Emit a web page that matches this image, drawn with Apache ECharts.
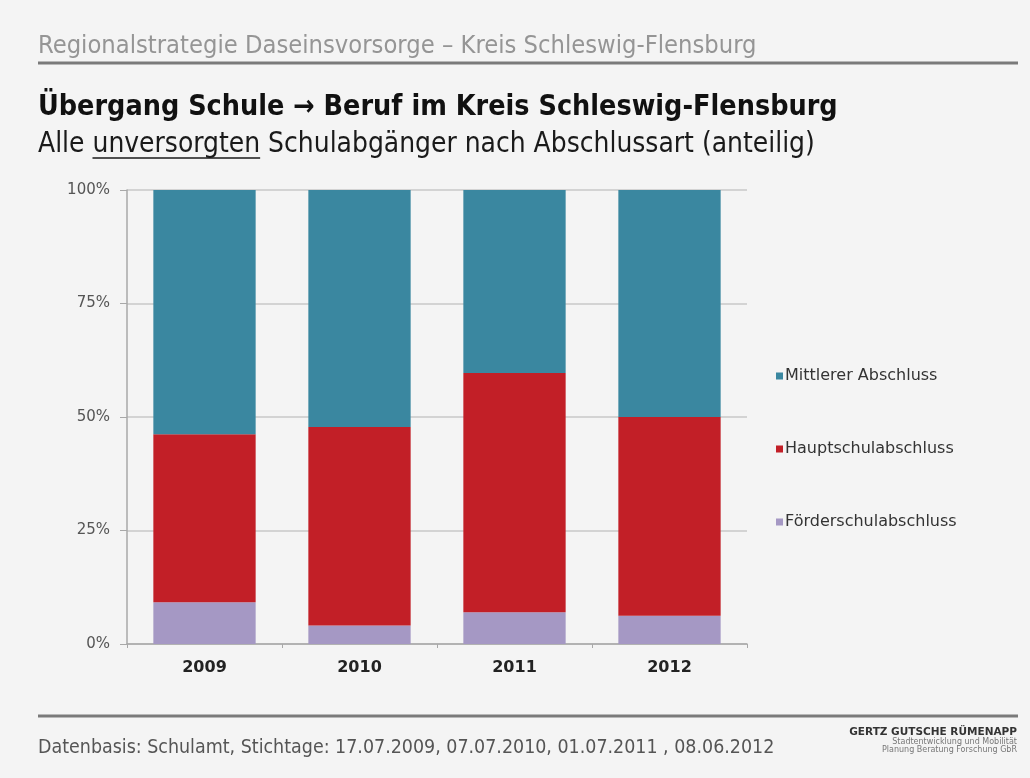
<!DOCTYPE html>
<html>
<head>
<meta charset="utf-8">
<script src="https://cdn.jsdelivr.net/npm/echarts@6/dist/echarts.min.js"></script>
<style>
html,body{margin:0;padding:0;background:#f4f4f4;}
#main{width:1030px;height:778px;}
</style>
</head>
<body>
<div id="main"></div>
<script>
// ---- data ----
const years = ['2009', '2010', '2011', '2012'];
const foerder = [9.2, 4.1, 7.0, 6.2];
const haupt = [37.0, 43.7, 52.7, 43.8];
const mittlerer = [53.8, 52.2, 40.3, 50.0];
const yTicks = [0, 25, 50, 75, 100];

const headerText = 'Regionalstrategie Daseinsvorsorge – Kreis Schleswig-Flensburg';
const titleText = 'Übergang Schule → Beruf im Kreis Schleswig-Flensburg';
const subPre = 'Alle ';
const subUnder = 'unversorgten';
const subPost = ' Schulabgänger nach Abschlussart (anteilig)';
const footerText = 'Datenbasis: Schulamt, Stichtage: 17.07.2009, 07.07.2010, 01.07.2011 , 08.06.2012';

// ---- helpers for text fitting ----
const cv = document.createElement('canvas').getContext('2d');
function measure(text, size, family, weight) {
  cv.font = (weight || 'normal') + ' ' + size + 'px ' + family;
  return cv.measureText(text).width;
}
function fit(text, family, weight, target) {
  const w = measure(text, 100, family, weight);
  return 100 * target / w;
}
const F = '"DejaVu Sans Condensed", "DejaVu Sans", sans-serif';
const F2 = '"DejaVu Sans", sans-serif';

const hSize = fit(headerText, F, 'normal', 719);
const tSize = fit(titleText, F, 'bold', 800);
const sSize = fit(subPre + subUnder + subPost, F, 'normal', 777);
const fSize = fit(footerText, F, 'normal', 737);
const ulStart = 38 + measure(subPre, sSize, F, 'normal');
const ulEnd = ulStart + measure(subUnder, sSize, F, 'normal');
const logoSize = fit('GERTZ GUTSCHE RÜMENAPP', F2, 'bold', 168);
const logoSub1 = fit('Stadtentwicklung und Mobilität', F2, 'normal', 160);
const logoSub2 = fit('Planung Beratung Forschung GbR', F2, 'normal', 160);

const chart = echarts.init(document.getElementById('main'));
chart.setOption({
  backgroundColor: '#f4f4f4',
  animation: false,
  grid: { left: 127, right: 283, top: 190, bottom: 134 },
  legend: {
    orient: 'vertical',
    left: 771,
    top: 363,
    itemWidth: 7,
    itemHeight: 7,
    itemGap: 57,
    icon: 'rect',
    data: ['Mittlerer Abschluss', 'Hauptschulabschluss', 'Förderschulabschluss'],
    textStyle: { color: '#333', fontSize: 16, fontFamily: F2, padding: [0, 0, 0, -3] }
  },
  xAxis: {
    type: 'category',
    data: years,
    axisLine: { lineStyle: { color: '#a8a8a8', width: 1.5 } },
    axisTick: { show: true, length: 4, lineStyle: { color: '#a8a8a8' } },
    axisLabel: { color: '#222', fontSize: 16, fontWeight: 'bold', fontFamily: F2, margin: 16 }
  },
  yAxis: {
    type: 'value',
    min: 0,
    max: 100,
    interval: 25,
    axisLine: { show: true, lineStyle: { color: '#a8a8a8', width: 1.5 } },
    axisTick: { show: true, length: 7, lineStyle: { color: '#a8a8a8' } },
    splitLine: { lineStyle: { color: '#c8c8c8', width: 1.5 } },
    axisLabel: {
      color: '#555', fontSize: 15, fontFamily: F2, margin: 17,
      formatter: function (v) { return yTicks.indexOf(v) >= 0 ? v + '%' : ''; }
    }
  },
  series: [
    { name: 'Förderschulabschluss', type: 'bar', stack: 's', data: foerder, barCategoryGap: '34%', itemStyle: { color: '#a598c4' } },
    { name: 'Hauptschulabschluss', type: 'bar', stack: 's', data: haupt, itemStyle: { color: '#c21f27' } },
    { name: 'Mittlerer Abschluss', type: 'bar', stack: 's', data: mittlerer, itemStyle: { color: '#3a87a0' } }
  ],
  graphic: [
    { type: 'text', x: 38, y: 46, style: { text: headerText, fontSize: hSize, fontFamily: F, fill: '#959595', verticalAlign: 'middle' } },
    { type: 'line', shape: { x1: 38, y1: 63, x2: 1018, y2: 63 }, style: { stroke: '#7a7a7a', lineWidth: 3 } },
    { type: 'text', x: 38, y: 108, style: { text: titleText, fontSize: tSize, fontWeight: 'bold', fontFamily: F, fill: '#111', verticalAlign: 'middle' } },
    { type: 'text', x: 38, y: 145, style: { text: subPre + subUnder + subPost, fontSize: sSize, fontFamily: F, fill: '#1a1a1a', verticalAlign: 'middle' } },
    { type: 'line', shape: { x1: ulStart, y1: 158, x2: ulEnd, y2: 158 }, style: { stroke: '#1a1a1a', lineWidth: 1.5 } },
    { type: 'line', shape: { x1: 38, y1: 716, x2: 1018, y2: 716 }, style: { stroke: '#7a7a7a', lineWidth: 3 } },
    { type: 'text', x: 38, y: 748, style: { text: footerText, fontSize: fSize, fontFamily: F, fill: '#555', verticalAlign: 'middle' } },
    { type: 'text', x: 1017, y: 732, style: { text: 'GERTZ GUTSCHE RÜMENAPP', fontSize: Math.min(logoSize, 11), fontWeight: 'bold', fontFamily: F2, fill: '#333', align: 'right', verticalAlign: 'middle' } },
    { type: 'text', x: 1017, y: 742, style: { text: 'Stadtentwicklung und Mobilität', fontSize: Math.min(logoSub1, 8), fontFamily: F2, fill: '#777', align: 'right', verticalAlign: 'middle' } },
    { type: 'text', x: 1017, y: 750, style: { text: 'Planung Beratung Forschung GbR', fontSize: Math.min(logoSub2, 8), fontFamily: F2, fill: '#777', align: 'right', verticalAlign: 'middle' } }
  ]
});
</script>
</body>
</html>
